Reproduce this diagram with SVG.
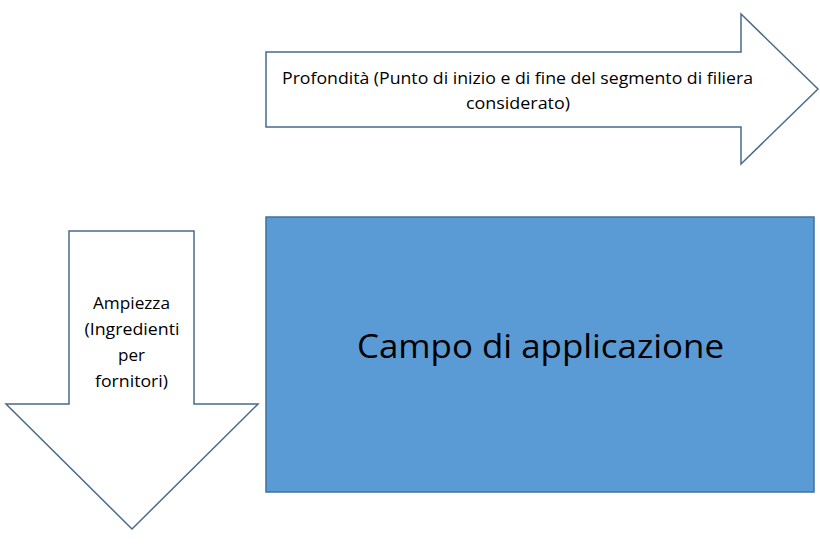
<svg xmlns="http://www.w3.org/2000/svg" width="820" height="545" viewBox="0 0 820 545">
<style>
.arrow{fill:#ffffff;stroke:#4a6b8c;stroke-width:1.5;stroke-linejoin:miter}
.box{fill:#5b9bd5;stroke:#41719c;stroke-width:1.5}
.t{font-family:"Open Sans","Liberation Sans",sans-serif;font-size:16px;fill:#000;text-anchor:middle}
.big{font-family:"Open Sans","Liberation Sans",sans-serif;font-size:32px;fill:#000;text-anchor:middle}
</style>
<rect width="820" height="545" fill="#ffffff"/>
<g id="depth">
<polygon class="arrow" points="266,52 741,52 741,14 818,89 741,164 741,127 266,127"/>
<text class="t" x="517.5" y="84" textLength="471" lengthAdjust="spacingAndGlyphs">Profondità (Punto di inizio e di fine del segmento di filiera</text>
<text class="t" x="518" y="109" textLength="104" lengthAdjust="spacingAndGlyphs">considerato)</text>
</g>
<g id="breadth">
<polygon class="arrow" points="69,231 194,231 194,404 258,404 132,529 6,404 69,404"/>
<text class="t" x="131.5" y="309" textLength="77" lengthAdjust="spacingAndGlyphs">Ampiezza</text>
<text class="t" x="132" y="335" textLength="95" lengthAdjust="spacingAndGlyphs">(Ingredienti</text>
<text class="t" x="131.5" y="361" textLength="27" lengthAdjust="spacingAndGlyphs">per</text>
<text class="t" x="131.5" y="387" textLength="73" lengthAdjust="spacingAndGlyphs">fornitori)</text>
</g>
<g id="scope">
<rect class="box" x="266" y="217" width="548" height="275"/>
<text class="big" x="540.5" y="358" textLength="367" lengthAdjust="spacingAndGlyphs">Campo di applicazione</text>
</g>
<g id="connectors"></g>
</svg>
